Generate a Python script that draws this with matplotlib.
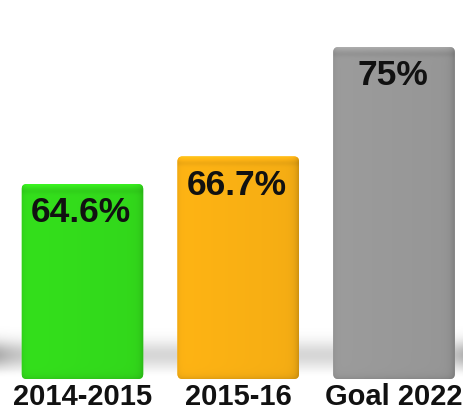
import numpy as np
import matplotlib.pyplot as plt
from matplotlib.patches import FancyBboxPatch
from matplotlib.colors import to_rgb


# Data

Categories = ["2014-2015", "2015-16", "Goal 2022"]
Values = [64.6, 66.7, 75.0]
Bar_Colors = ["#34e01c", "#ffb414", "#9c9c9c"]

Base = 49.8
Bar_Width = 0.78

plt.rcParams["font.family"] = ["Liberation Sans", "DejaVu Sans"]


# Figure / axes

fig = plt.figure(figsize= (4.64, 4.10), dpi= 100)

# background layer in pixel units for the floor shadow
bg = fig.add_axes([0, 0, 1, 1], zorder= 0)
bg.set_xlim(0, 464)
bg.set_ylim(410, 0)
bg.axis("off")

ax = fig.add_axes([0, 30 / 410, 1, 380 / 410], zorder= 1)
ax.patch.set_alpha(0)
ax.set_xlim(-0.529, 2.449)
ax.set_ylim(Base, 78.65)
for s in ax.spines.values():
    s.set_visible(False)
ax.set_yticks([])
ax.set_xticks(range(len(Categories)))
ax.set_xticklabels(Categories, fontsize= 21, fontweight= "bold", color= "#111111")
ax.tick_params(axis= "x", length= 0, pad= 2)


# Floor shadow behind the bars

yy = np.linspace(310, 380, 180)[:, None]
xx = np.linspace(0, 464, 300)[None, :]
Shade = 0.16 * np.exp(-((yy - 356) / 14.0) ** 2)
Edge = 1 + 0.9 * np.exp(-xx / 22.0) + 0.9 * np.exp(-(464 - xx) / 14.0)
Shade = Shade * Edge
Fade = yy[:, 0] > 371
Shade[Fade] *= np.linspace(1, 0, Fade.sum())[:, None]
Shadow_Img = np.zeros((yy.shape[0], xx.shape[1], 4))
Shadow_Img[..., 3] = np.clip(Shade, 0, 1)
bg.imshow(Shadow_Img, extent= (0, 464, 380, 310), aspect= "auto", interpolation= "bilinear")


# Bars with soft 3D shading

fig.canvas.draw()
Px_X = ax.transData.transform((1, Base))[0] - ax.transData.transform((0, Base))[0]
Px_Y = ax.transData.transform((0, Base + 1))[1] - ax.transData.transform((0, Base))[1]

for i, (Val, Col) in enumerate(zip(Values, Bar_Colors)):
    x0 = i - Bar_Width / 2
    w_px = Bar_Width * Px_X
    h_px = (Val - Base) * Px_Y

    Box = FancyBboxPatch((x0, Base), Bar_Width, Val - Base,
                         boxstyle= f"round,pad=0,rounding_size={5 / Px_X}",
                         mutation_aspect= Px_X / Px_Y,
                         facecolor= Col, edgecolor= "none", zorder= 2)
    ax.add_patch(Box)

    # horizontal profile: darker rims, right side in shade
    u = (np.arange(int(w_px)) + 0.5)
    Horiz = np.ones_like(u)
    Horiz -= 0.08 * np.exp(-u / 2.5)
    Horiz -= 0.04 * (u / w_px)
    Horiz -= 0.20 * np.exp(-(w_px - u) / 3.5)

    # vertical profile: light top rim, dark bottom rim
    v = (np.arange(int(h_px)) + 0.5)
    Vert = np.ones_like(v)
    Vert += 0.12 * np.exp(-v / 3.0)
    Vert -= 0.06 * np.exp(-((v - 7) / 3.0) ** 2)
    Vert -= 0.15 * np.exp(-(h_px - v) / 3.0)

    Rgb = np.array(to_rgb(Col))
    Fac = Vert[:, None] * Horiz[None, :]
    Img = np.clip(Rgb[None, None, :] * Fac[..., None] + 0.10 * np.clip(Fac - 1, 0, None)[..., None], 0, 1)

    im = ax.imshow(Img, extent= (x0, x0 + Bar_Width, Base, Val), aspect= "auto",
                   interpolation= "bilinear", zorder= 3)
    im.set_clip_path(Box)

    ax.annotate(f"{Val:g}%", xy= (i, Val), xytext= (-1, -8), textcoords= "offset points",
                ha= "center", va= "top", fontsize= 25.5, fontweight= "bold",
                color= "#111111", zorder= 4)


fig.savefig("out.png", dpi= 100)
